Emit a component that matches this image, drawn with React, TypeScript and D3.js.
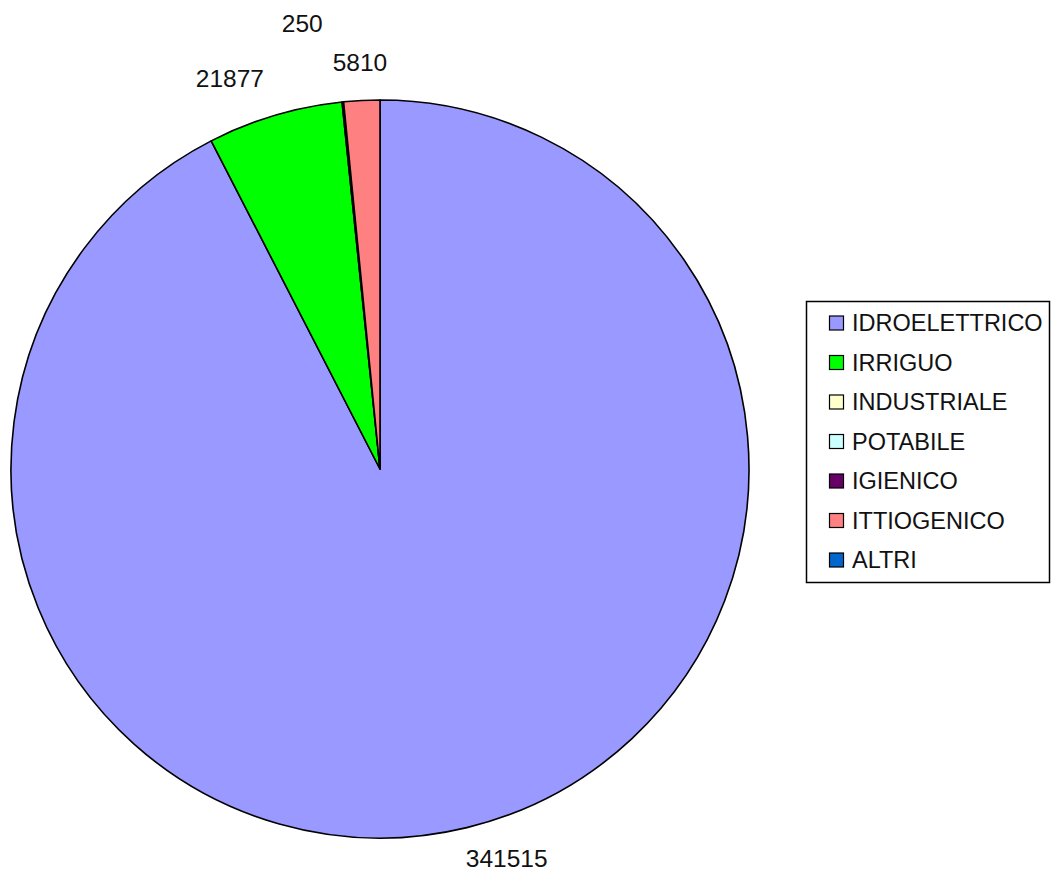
import React from "react";
import * as d3 from "d3";

// Water concessions by use (portata), pie with outside labels
const categories = [
  "IDROELETTRICO",
  "IRRIGUO",
  "INDUSTRIALE",
  "POTABILE",
  "IGIENICO",
  "ITTIOGENICO",
  "ALTRI",
];
const values = [341515, 21877, 250, 0, 0, 5810, 0];
const colors = [
  "#9999FF",
  "#00FF00",
  "#FFFFCC",
  "#CCFFFF",
  "#660066",
  "#FF8080",
  "#0066CC",
];

const W = 1054;
const H = 874;
const cx = 380;
const cy = 469;
const R = 369;
const labelR = 407;
const labelFont = 24.5;
const legendFont = 23.5;

type Lbl = { text: string; x: number; y: number; anchor: string; w: number; h: number; v: number };

function textWidth(s: string, size: number) {
  // Arial-metric digits are 0.556 em wide
  return s.length * 0.556 * size;
}

export default function App() {
  const data = categories.map((c, i) => ({ name: c, value: values[i], color: colors[i] }));
  const pie = d3.pie<any>().sort(null).value((d) => d.value).startAngle(0).endAngle(2 * Math.PI);
  const arcs = pie(data);
  const arc = d3.arc<any>().innerRadius(0).outerRadius(R);

  // label placement: biggest first, smaller ones nudged upward on collision
  const raw: Lbl[] = arcs
    .filter((a) => a.data.value > 0)
    .map((a) => {
      const m = (a.startAngle + a.endAngle) / 2;
      const s = Math.sin(m);
      const c = Math.cos(m);
      const text = String(a.data.value);
      const w = textWidth(text, labelFont);
      const anchor = s > 0.1 ? "start" : s < -0.1 ? "end" : "middle";
      const x = cx + s * labelR - (anchor === "start" ? 10 : 0);
      const y = Math.min(cy - c * labelR, H - labelFont * 0.5 - 3);
      return { text, x, y, anchor, w, h: labelFont, v: a.data.value };
    });
  const box = (l: Lbl) => {
    const x0 = l.anchor === "start" ? l.x : l.anchor === "end" ? l.x - l.w : l.x - l.w / 2;
    return { x0, x1: x0 + l.w, y0: l.y - l.h / 2, y1: l.y + l.h / 2 };
  };
  const placed: Lbl[] = [];
  [...raw].sort((a, b) => b.v - a.v).forEach((l) => {
    const cur = { ...l };
    let guard = 0;
    while (
      guard++ < 10 &&
      placed.some((p) => {
        const a = box(cur);
        const b = box(p);
        return a.x0 < b.x1 && a.x1 > b.x0 && a.y0 < b.y1 + 6 && a.y1 > b.y0 - 6;
      })
    ) {
      cur.y -= l.h + 16;
      cur.x -= l.w * 0.4;
    }
    placed.push(cur);
  });

  const lx = 806.5;
  const ly = 301.5;
  const lw = 243;
  const lh = 281;
  const rowY = d3.scaleLinear().domain([0, categories.length - 1]).range([ly + 21.5, ly + 21.5 + 6 * 39.5]);

  return (
    <svg
      width={W}
      height={H}
      style={{ position: "absolute", left: 0, top: 0, background: "#fff" }}
      fontFamily="'Liberation Sans', Arial, sans-serif"
    >
      <g transform={`translate(${cx},${cy})`}>
        {arcs.map((a, i) =>
          a.data.value > 0 ? (
            <path key={i} d={arc(a) as string} fill={a.data.color} stroke="#000" strokeWidth={1.6} strokeLinejoin="round" />
          ) : null
        )}
      </g>
      {placed.map((l, i) => (
        <text
          key={i}
          x={l.x}
          y={l.y}
          textAnchor={l.anchor}
          dominantBaseline="central"
          fontSize={labelFont}
          fill="#111"
        >
          {l.text}
        </text>
      ))}
      <rect x={lx} y={ly} width={lw} height={lh} fill="#fff" stroke="#000" strokeWidth={1.5} />
      {categories.map((c, i) => (
        <g key={c}>
          <rect x={829.5} y={rowY(i) - 7} width={14} height={14} fill={colors[i]} stroke="#000" strokeWidth={1.2} />
          <text x={852} y={rowY(i)} dominantBaseline="central" fontSize={legendFont} fill="#111">
            {c}
          </text>
        </g>
      ))}
    </svg>
  );
}
